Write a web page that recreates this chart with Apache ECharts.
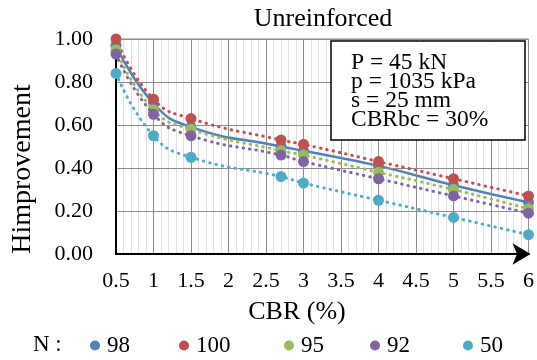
<!DOCTYPE html>
<html>
<head>
<meta charset="utf-8">
<script src="https://cdn.jsdelivr.net/npm/echarts@6/dist/echarts.min.js"></script>
<style>
  html, body { margin: 0; padding: 0; background: #fff; }
  #main { width: 537px; height: 360px; }
</style>
</head>
<body>
<div id="main"></div>
<script>
// CBR (%) values on the x axis
var cbr = [0.5, 1, 1.5, 2.7, 3, 4, 5, 6];
// Himprovement for each N
var n98  = [0.97, 0.70, 0.59, 0.50, 0.48, 0.41, 0.32, 0.24];
var n100 = [1.00, 0.72, 0.63, 0.53, 0.51, 0.43, 0.35, 0.27];
var n95  = [0.95, 0.67, 0.58, 0.48, 0.46, 0.38, 0.30, 0.21];
var n92  = [0.93, 0.65, 0.55, 0.46, 0.43, 0.35, 0.27, 0.19];
var n50  = [0.84, 0.55, 0.45, 0.36, 0.33, 0.25, 0.17, 0.09];
var seriesNames = ['98', '100', '95', '92', '50'];
var boxLines = ['P = 45 kN', 'p = 1035 kPa', 's = 25 mm', 'CBRbc = 30%'];

var colors = ['#4F81BD', '#C0504D', '#9BBB59', '#8064A2', '#4BACC6'];
var allData = [n98, n100, n95, n92, n50];
var font = 'Liberation Serif';

function pairs(vals) {
    var out = [];
    for (var i = 0; i < cbr.length; i++) out.push([cbr[i], vals[i]]);
    return out;
}

var series = [];
for (var k = 0; k < seriesNames.length; k++) {
    series.push({
        name: seriesNames[k],
        type: 'line',
        smooth: 0.5,
        data: pairs(allData[k]),
        symbol: 'circle',
        symbolSize: 11,
        itemStyle: { color: colors[k] },
        lineStyle: k === 0
            ? { color: colors[k], width: 2.5, type: 'solid' }
            : { color: colors[k], width: 3, type: [0.5, 6], cap: 'round' },
        z: 2 + k
    });
}

// one legend per item so the spacing matches the picture
var legendLeft = [90, 179, 284, 370, 463];
var legends = [];
for (var j = 0; j < seriesNames.length; j++) {
    legends.push({
        data: [{ name: seriesNames[j], icon: 'circle' }],
        left: legendLeft[j],
        top: 334,
        itemWidth: 10,
        itemHeight: 10,
        itemGap: 0,
        padding: 0,
        textStyle: { fontFamily: font, fontSize: 23, color: '#000', padding: [0, 0, 0, 2] }
    });
}

var myChart = echarts.init(document.getElementById('main'));
var option = {
    animation: false,
    backgroundColor: '#fff',
    title: {
        text: 'Unreinforced',
        left: 318,
        top: 1,
        textAlign: 'center',
        textStyle: { fontFamily: font, fontSize: 26, fontWeight: 'normal', color: '#000' }
    },
    legend: legends,
    grid: {
        left: 116, right: 8, top: 39, bottom: 106,
        show: true, borderColor: '#888', borderWidth: 1
    },
    xAxis: [
        {
            type: 'value',
            min: 0.5, max: 6, interval: 0.5,
            axisLine: {
                show: true, onZero: false,
                symbol: ['none', 'arrow'], symbolSize: [16, 18], symbolOffset: [0, 2],
                lineStyle: { color: '#000', width: 2 }
            },
            axisTick: { show: false },
            axisLabel: { fontFamily: font, fontSize: 22, color: '#000', margin: 16 },
            splitLine: { show: true, lineStyle: { color: '#8c8c8c', width: 1 } },
            z: 3
        },
        {
            // light minor grid every 0.1
            type: 'value',
            position: 'top',
            min: 0.5, max: 6, interval: 0.1,
            axisLine: { show: false },
            axisTick: { show: false },
            axisLabel: { show: false },
            splitLine: { show: true, lineStyle: { color: '#e0e0e0', width: 1 } },
            z: 1
        }
    ],
    yAxis: {
        type: 'value',
        min: 0, max: 1, interval: 0.2,
        axisLine: { show: true, lineStyle: { color: '#000', width: 2 } },
        axisTick: { show: false },
        axisLabel: {
            fontFamily: font, fontSize: 22, color: '#000', margin: 23,
            formatter: function (v) { return v.toFixed(2); }
        },
        splitLine: { show: true, lineStyle: { color: '#8c8c8c', width: 1 } },
        z: 3
    },
    graphic: [
        {
            type: 'text', x: 23, y: 169, rotation: Math.PI / 2,
            style: { text: 'Himprovement', fontFamily: font, fontSize: 28, fill: '#000',
                     textAlign: 'center', textVerticalAlign: 'middle' }
        },
        {
            type: 'text', x: 297, y: 312,
            style: { text: 'CBR (%)', fontFamily: font, fontSize: 26, fill: '#000',
                     textAlign: 'center', textVerticalAlign: 'middle' }
        },
        {
            type: 'text', x: 33, y: 345,
            style: { text: 'N :', fontFamily: font, fontSize: 23, fill: '#000',
                     textVerticalAlign: 'middle' }
        },
        {
            type: 'rect', z: 100,
            shape: { x: 331, y: 41, width: 194, height: 99 },
            style: { fill: '#fff', stroke: '#000', lineWidth: 1.5 }
        },
        {
            type: 'text', z: 101, x: 351, y: 53,
            style: { text: boxLines.join('\n'), fontFamily: font, fontSize: 23.5,
                     lineHeight: 19, fill: '#000' }
        }
    ],
    series: series
};
myChart.setOption(option);
</script>
</body>
</html>
